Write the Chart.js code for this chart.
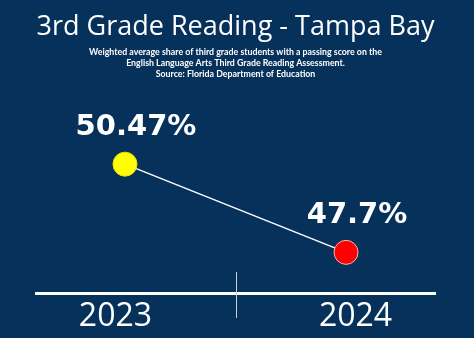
<!DOCTYPE html>
<html>
<head>
<meta charset="utf-8">
<script src="https://cdn.jsdelivr.net/npm/chart.js@4"></script>
<style>
  html, body { margin: 0; padding: 0; background: #06315b; }
  #wrap { width: 474px; height: 338px; }
</style>
</head>
<body>
<div id="wrap"><canvas id="c" width="474" height="338"></canvas></div>
<script>
// Passing share of third graders, Tampa Bay
const categories = ['2023', '2024'];
const passingShare = [50.47, 47.7];
const valueLabels = ['50.47%', '47.7%'];
const pointColors = ['#ffff00', '#ff0000'];
const pointBorders = ['#e8e200', '#ffb3b3'];

const titleText = '3rd Grade Reading - Tampa Bay';
const subtitleLines = [
  'Weighted average share of third grade students with a passing score on the',
  'English Language Arts Third Grade Reading Assessment.',
  'Source: Florida Department of Education'
];

// Thin vertical divider between the two years
const dividerPlugin = {
  id: 'divider',
  afterDraw(chart) {
    const x = chart.scales.x.getPixelForValue(0.5);
    const b = chart.chartArea.bottom;
    const ctx = chart.ctx;
    ctx.save();
    ctx.strokeStyle = '#c9d2dc';
    ctx.lineWidth = 1;
    ctx.beginPath();
    ctx.moveTo(Math.round(x) + 0.5, b - 21);
    ctx.lineTo(Math.round(x) + 0.5, b + 25);
    ctx.stroke();
    ctx.restore();
  }
};

// Value labels above each point
const valueLabelPlugin = {
  id: 'valueLabels',
  afterDatasetsDraw(chart) {
    const ctx = chart.ctx;
    const meta = chart.getDatasetMeta(0);
    ctx.save();
    ctx.fillStyle = '#ffffff';
    ctx.font = 'bold 29px "DejaVu Sans"';
    ctx.textAlign = 'center';
    ctx.textBaseline = 'alphabetic';
    meta.data.forEach((pt, i) => {
      ctx.fillText(valueLabels[i], pt.x + 11, pt.y - 29);
    });
    ctx.restore();
  }
};

new Chart(document.getElementById('c'), {
  type: 'line',
  data: {
    datasets: [{
      data: passingShare.map((v, i) => ({ x: i, y: v })),
      borderColor: '#ffffff',
      borderWidth: 1.5,
      tension: 0,
      pointRadius: 12,
      pointHoverRadius: 12,
      pointBackgroundColor: pointColors,
      pointBorderColor: pointBorders,
      pointBorderWidth: 1,
      clip: false
    }]
  },
  options: {
    responsive: false,
    animation: false,
    events: [],
    layout: { padding: { left: 36, right: 39, top: 0, bottom: 0 } },
    plugins: {
      legend: { display: false },
      tooltip: { enabled: false },
      title: {
        display: true,
        text: titleText,
        color: '#ffffff',
        font: { family: '"Open Sans"', size: 27, weight: 'normal' },
        padding: { top: 11, bottom: 1 }
      },
      subtitle: {
        display: true,
        text: subtitleLines,
        color: '#ffffff',
        font: { family: 'Lato', size: 8.8, weight: 'bold', lineHeight: 1.25 },
        padding: { top: 2, bottom: 8 }
      }
    },
    scales: {
      x: {
        type: 'linear',
        min: -0.4025,
        max: 1.4025,
        afterBuildTicks(scale) {
          scale.ticks = categories.map((c, i) => ({ value: i + (i - 0.5) * 0.086 }));
        },
        afterFit(scale) {
          scale.height = 45;
        },
        grid: { display: false, drawTicks: false },
        border: { display: true, color: '#ffffff', width: 3 },
        ticks: {
          autoSkip: false,
          maxRotation: 0,
          padding: 5,
          color: '#ffffff',
          font: { family: '"Open Sans"', size: 32 },
          callback: (v, i) => categories[i]
        }
      },
      y: {
        display: false,
        min: 46.424,
        max: 52.88
      }
    }
  },
  plugins: [dividerPlugin, valueLabelPlugin]
});
</script>
</body>
</html>
